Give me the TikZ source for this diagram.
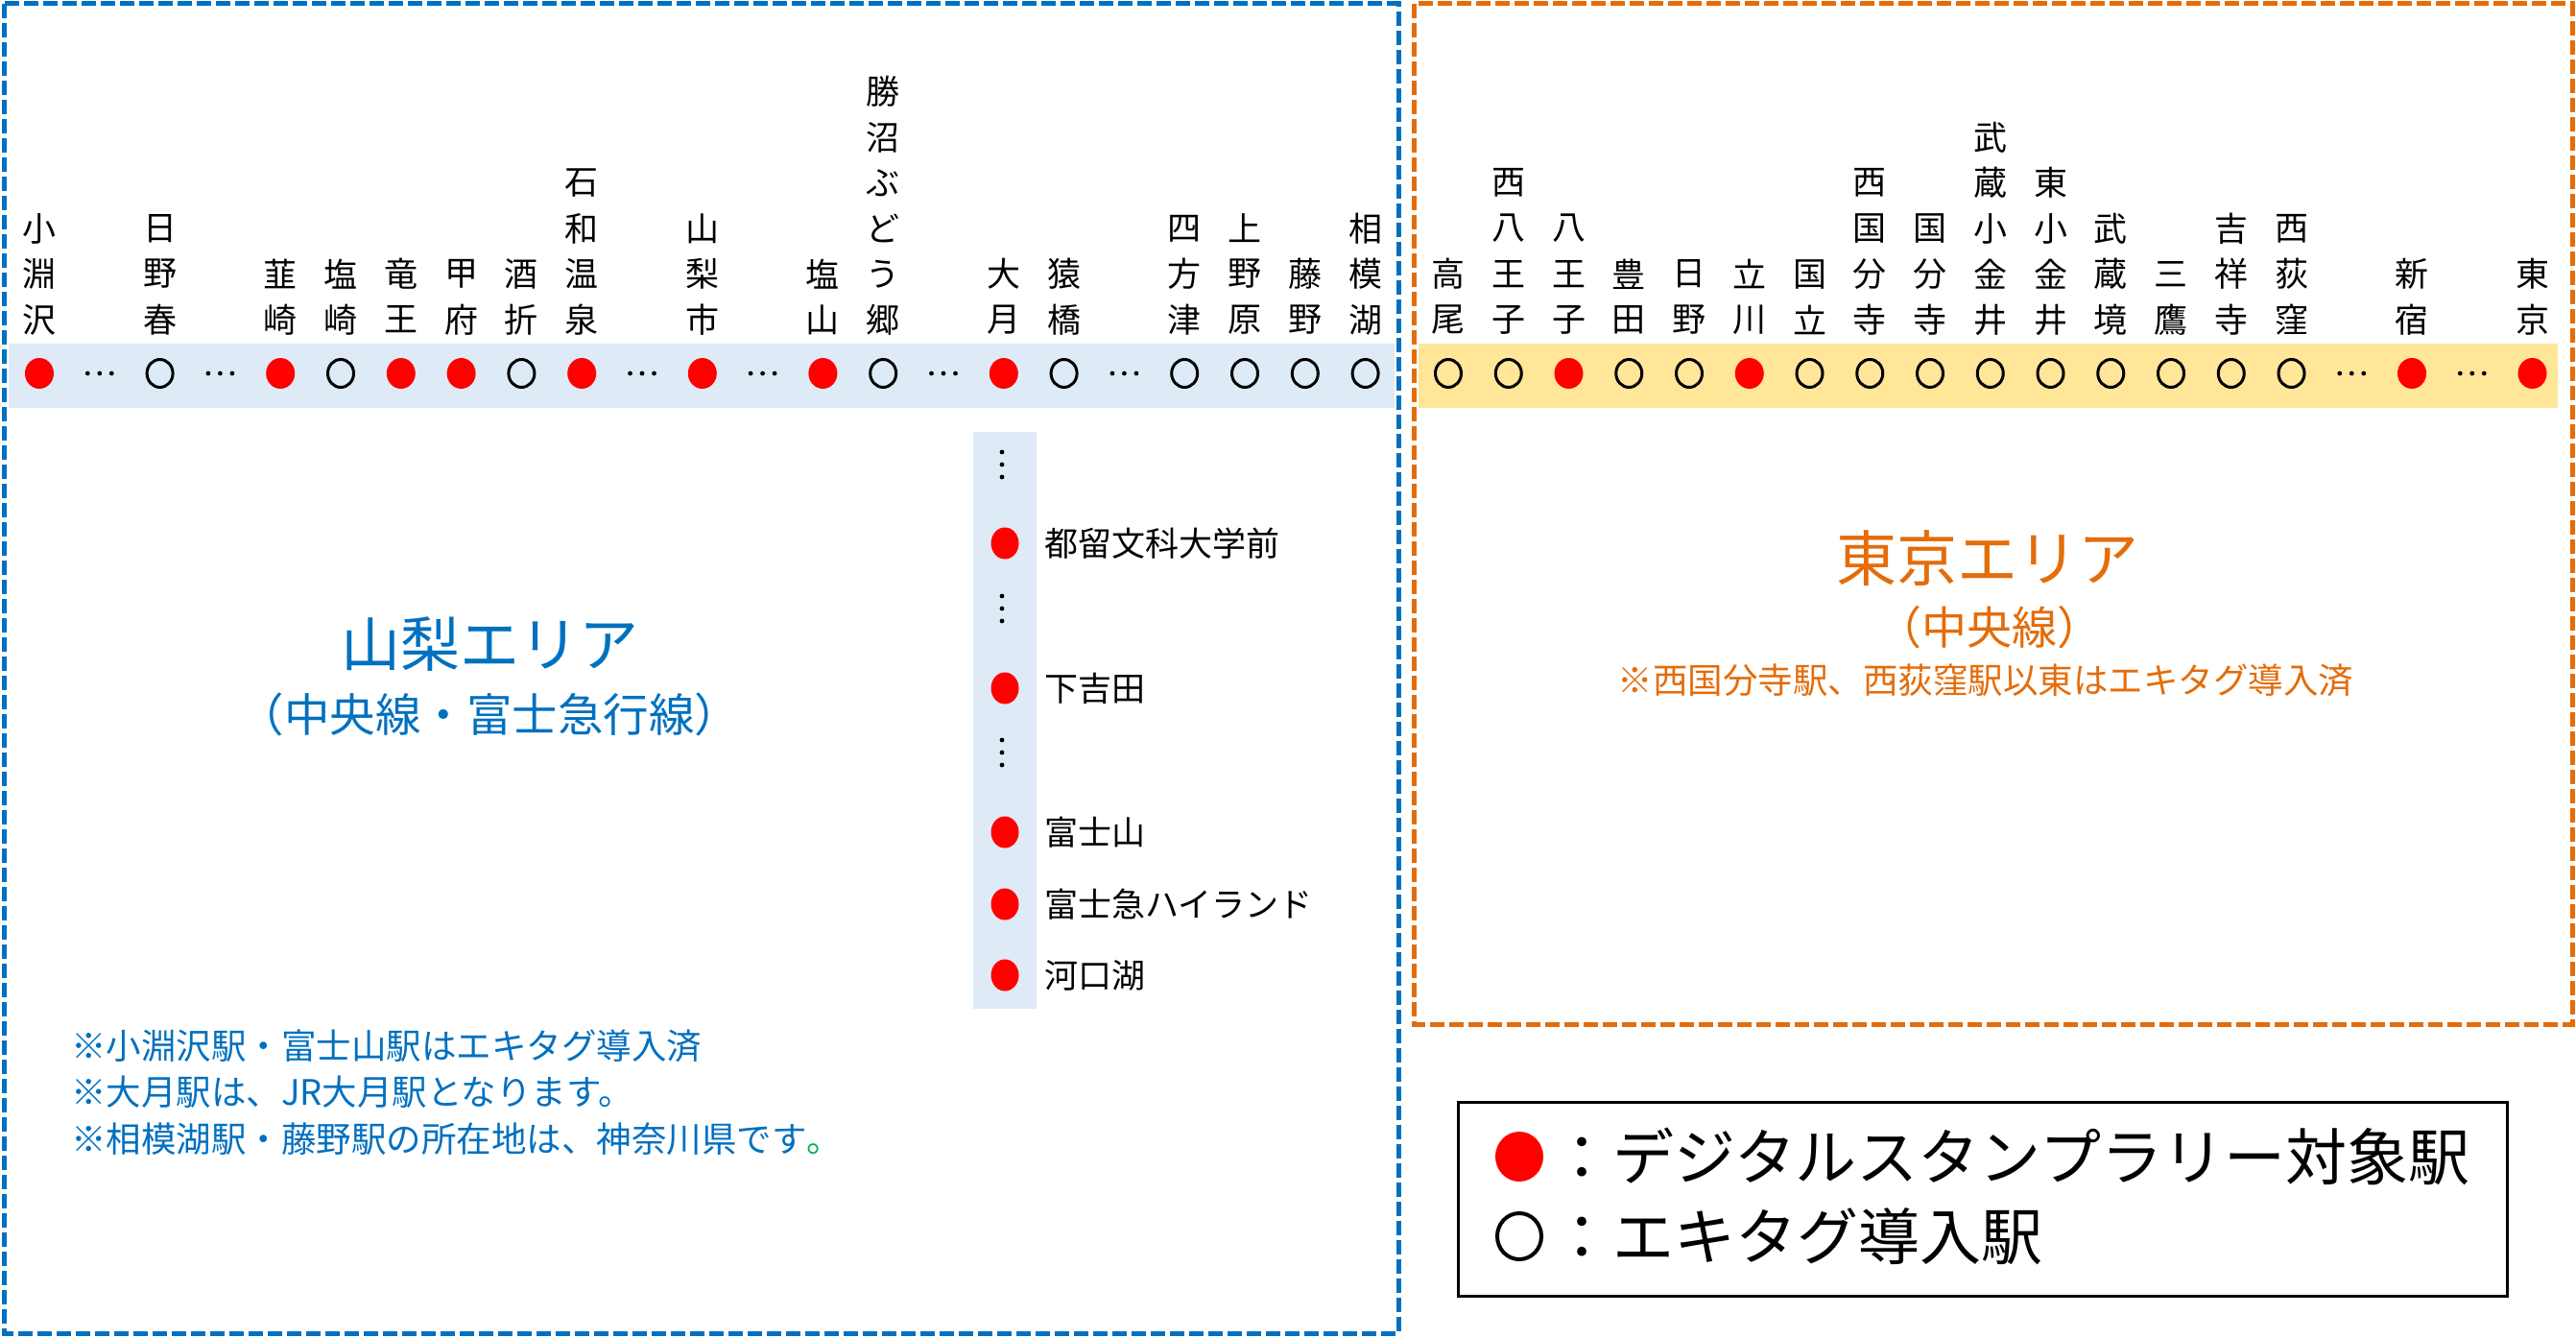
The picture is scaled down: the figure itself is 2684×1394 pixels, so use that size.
\documentclass[tikz,border=0pt]{standalone}
\usepackage{fontspec}
\setmainfont{Noto Sans CJK JP}
\usetikzlibrary{shapes.geometric}
\definecolor{ablue}{HTML}{0070C0}
\definecolor{aorange}{HTML}{E46C0A}
\definecolor{bandblue}{HTML}{DEEBF7}
\definecolor{bandgold}{HTML}{FFE699}
\definecolor{agreen}{HTML}{00B050}
\tikzset{
  rst/.style={ellipse, fill=red, minimum width=30pt, minimum height=32pt, inner sep=0pt},
  ost/.style={ellipse, draw=black, line width=3pt, minimum width=27pt, minimum height=29pt, inner sep=0pt},
  brst/.style={ellipse, fill=red, minimum width=29pt, minimum height=33pt, inner sep=0pt},
  vlab/.style={inner sep=0pt, font=\fontsize{35pt}{40pt}\selectfont},
  sidelab/.style={anchor=west, inner sep=0pt, font=\fontsize{35pt}{40pt}\selectfont},
  notelab/.style={text=ablue, anchor=west, inner sep=0pt, font=\fontsize{36.5pt}{40pt}\selectfont},
  leglab/.style={anchor=west, inner sep=0pt, font=\fontsize{64pt}{70pt}\selectfont},
  bluebox/.style={draw=ablue, line width=5pt, dash pattern=on 15pt off 5pt},
  orangebox/.style={draw=aorange, line width=5pt, dash pattern=on 15pt off 5pt},
}
\newcommand{\stlab}[3]{\foreach \c [count=\k from 0] in {#3} {\node[vlab] (#1-\k) at (#2,{333-47.5*\k}) {\c};}}
\newcommand{\stn}[4]{\node[#3] (#1) at (#2,389) {}; \stlab{#1}{#2}{#4}}
\newcommand{\hdts}[2]{\foreach \d in {-12.5,0,12.5} {\fill ({#1+\d},#2) circle (2.4pt);}}
\newcommand{\vdts}[2]{\foreach \d in {-13,0,13} {\fill (#1,{#2+\d}) circle (2.4pt);}}
\begin{document}
\begin{tikzpicture}[x=1pt,y=-1pt]
\path[use as bounding box] (0,0) rectangle (2684,1394);
% bands
\fill[bandblue] (9,358) rectangle (1453,425);
\fill[bandgold] (1478,358) rectangle (2665,425);
\fill[bandblue] (1014,450) rectangle (1080,1051);
% area frames
\draw[bluebox] (4,4) rectangle (1457,1389);
\draw[orangebox] (1473,4) rectangle (2680,1067);
% Yamanashi stations
\stn{L0}{41}{rst}{沢,淵,小}
\hdts{103.8}{389}
\stn{L2}{166.6}{ost}{春,野,日}
\hdts{229.4}{389}
\stn{L4}{292.2}{rst}{崎,韮}
\stn{L5}{355}{ost}{崎,塩}
\stn{L6}{417.8}{rst}{王,竜}
\stn{L7}{480.6}{rst}{府,甲}
\stn{L8}{543.4}{ost}{折,酒}
\stn{L9}{606.2}{rst}{泉,温,和,石}
\hdts{669}{389}
\stn{L11}{731.8}{rst}{市,梨,山}
\hdts{794.6}{389}
\stn{L13}{857.4}{rst}{山,塩}
\stn{L14}{920.2}{ost}{郷,う,ど,ぶ,沼,勝}
\hdts{983}{389}
\stn{L16}{1045.8}{rst}{月,大}
\stn{L17}{1108.6}{ost}{橋,猿}
\hdts{1171.4}{389}
\stn{L19}{1234.2}{ost}{津,方,四}
\stn{L20}{1297}{ost}{原,野,上}
\stn{L21}{1359.8}{ost}{野,藤}
\stn{L22}{1422.6}{ost}{湖,模,相}
% Tokyo stations
\stn{R0}{1509}{ost}{尾,高}
\stn{R1}{1571.75}{ost}{子,王,八,西}
\stn{R2}{1634.5}{rst}{子,王,八}
\stn{R3}{1697.25}{ost}{田,豊}
\stn{R4}{1760}{ost}{野,日}
\stn{R5}{1822.75}{rst}{川,立}
\stn{R6}{1885.5}{ost}{立,国}
\stn{R7}{1948.25}{ost}{寺,分,国,西}
\stn{R8}{2011}{ost}{寺,分,国}
\stn{R9}{2073.75}{ost}{井,金,小,蔵,武}
\stn{R10}{2136.5}{ost}{井,金,小,東}
\stn{R11}{2199.25}{ost}{境,蔵,武}
\stn{R12}{2262}{ost}{鷹,三}
\stn{R13}{2324.75}{ost}{寺,祥,吉}
\stn{R14}{2387.5}{ost}{窪,荻,西}
\hdts{2450.25}{389}
\stn{R16}{2513}{rst}{宿,新}
\hdts{2575.75}{389}
\stn{R18}{2638.5}{rst}{京,東}
% Fujikyu branch
\vdts{1044}{484}
\node[brst] (F1) at (1047,566) {};
\node[sidelab] (F1t) at (1088,566) {都留文科大学前};
\vdts{1044}{634}
\node[brst] (F2) at (1047,717) {};
\node[sidelab] (F2t) at (1088,717) {下吉田};
\vdts{1044}{784}
\node[brst] (F3) at (1047,867) {};
\node[sidelab] (F3t) at (1088,867) {富士山};
\node[brst] (F4) at (1047,942) {};
\node[sidelab] (F4t) at (1088,942) {富士急ハイランド};
\node[brst] (F5) at (1047,1016) {};
\node[sidelab] (F5t) at (1088,1016) {河口湖};
% Yamanashi titles and notes
\node[text=ablue, font=\fontsize{62pt}{68pt}\selectfont] (ytitle) at (510,671) {山梨エリア};
\node[text=ablue, font=\fontsize{47.5pt}{52pt}\selectfont] (ysub) at (510,744) {（中央線・富士急行線）};
\node[notelab] (n1) at (74,1090) {※小淵沢駅・富士山駅はエキタグ導入済};
\node[notelab] (n2) at (74,1138) {※大月駅は、JR大月駅となります。};
\node[notelab] (n3) at (74,1187) {※相模湖駅・藤野駅の所在地は、神奈川県です\textcolor{agreen}{。}};
% Tokyo titles
\node[text=aorange, font=\fontsize{63pt}{68pt}\selectfont] (ttitle) at (2071,582) {東京エリア};
\node[text=aorange, font=\fontsize{47pt}{52pt}\selectfont] (tsub) at (2073,654) {（中央線）};
\node[text=aorange, font=\fontsize{36.5pt}{40pt}\selectfont] (tnote) at (2069,709) {※西国分寺駅、西荻窪駅以東はエキタグ導入済};
% legend
\draw[line width=3pt] (1519,1148) rectangle (2612,1350);
\node[ellipse, fill=red, minimum width=50pt, minimum height=52pt, inner sep=0pt] (lg1) at (1583,1205) {};
\node[ellipse, draw=black, line width=4pt, minimum width=46pt, minimum height=48pt, inner sep=0pt] (lg2) at (1583,1288) {};
\node[leglab] (lg1t) at (1616,1205) {：デジタルスタンプラリー対象駅};
\node[leglab] (lg2t) at (1616,1288) {：エキタグ導入駅};
\end{tikzpicture}
\end{document}
